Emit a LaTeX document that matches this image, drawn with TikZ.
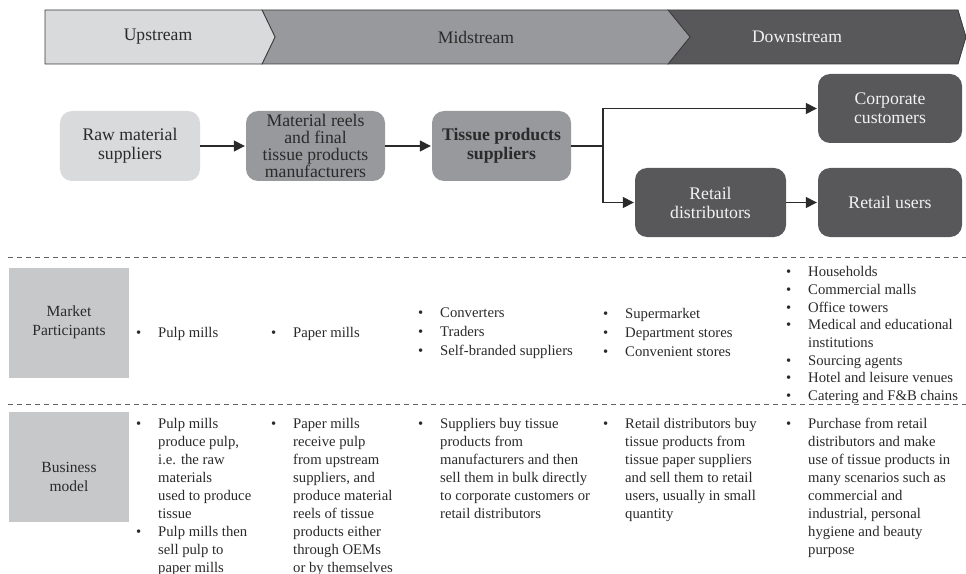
\documentclass[tikz,border=0pt]{standalone}
\usepackage{fontspec}
\setmainfont{Liberation Serif}
\usetikzlibrary{arrows.meta}

\definecolor{ink}{HTML}{2B2A2B}
\definecolor{upfill}{HTML}{D9DADC}
\definecolor{midfill}{HTML}{98999C}
\definecolor{downfill}{HTML}{58585A}
\definecolor{labfill}{HTML}{C7C8CA}
\definecolor{edge}{HTML}{3A3A3A}
\definecolor{paleink}{HTML}{F2F2F2}

\newcommand{\itembul}{\llap{\textbullet\hspace{17bp}}}

\tikzset{
  bannertext/.style={font=\fontsize{17.6bp}{19bp}\selectfont, inner sep=0pt},
  flowbox/.style={rounded corners=12bp, minimum width=140bp, minimum height=70bp,
    inner sep=0pt, align=center, font=\fontsize{17.7bp}{19bp}\selectfont},
  lightbox/.style={flowbox, fill=upfill, text=ink},
  midbox/.style={flowbox, fill=midfill, text=ink},
  darkbox/.style={flowbox, fill=downfill, text=paleink},
  labelbox/.style={fill=labfill, minimum width=120bp, minimum height=110bp, inner sep=0pt},
  labeltext/.style={align=center, text=ink, inner sep=0pt,
    font=\fontsize{15.5bp}{19bp}\selectfont},
  conn/.style={draw=ink, line width=1.4bp, -{Triangle[length=11bp,width=11bp]}, shorten >=1bp},
  plainline/.style={draw=ink, line width=1.4bp},
  sepline/.style={draw=edge!80, line width=0.8bp, dash pattern=on 5bp off 4bp},
  listtext/.style={anchor=base west, inner sep=0pt, text=ink},
  widelist/.style={listtext, font=\fontsize{14.7bp}{19bp}\selectfont},
  tightlist/.style={listtext, font=\fontsize{14.7bp}{17.6bp}\selectfont},
  bodylist/.style={listtext, font=\fontsize{14.7bp}{18bp}\selectfont},
}

\begin{document}
\begin{tikzpicture}[x=1bp, y=-1bp]
\useasboundingbox (0,0) rectangle (966,574);

% value-chain banner
\filldraw[fill=downfill, draw=edge, line width=0.8bp]
  (668,10) -- (958,10) -- (966,37) -- (958,64) -- (668,64) -- (690,37) -- cycle;
\filldraw[fill=midfill, draw=edge, line width=0.8bp]
  (262,10) -- (668,10) -- (690,37) -- (668,64) -- (262,64) -- (275,37) -- cycle;
\filldraw[fill=upfill, draw=edge, line width=0.8bp]
  (45,10) -- (262,10) -- (275,37) -- (262,64) -- (45,64) -- cycle;
\node[bannertext, text=ink] (up) at (158,37) {Upstream};
\node[bannertext, text=ink] (mid) at (476,37) {Midstream};
\node[bannertext, text=paleink] (down) at (797,37) {Downstream};

% flow of products
\node[lightbox] (raw) at (130,146) {Raw material\\suppliers};
\node[midbox, minimum width=139bp, font=\fontsize{17.7bp}{17bp}\selectfont] (mat) at (315.5,146)
  {Material reels\\and final\\tissue products\\manufacturers};
\node[midbox, minimum width=139bp, font=\fontsize{17.7bp}{19bp}\selectfont\bfseries] (tis) at (501.5,146)
  {Tissue products\\suppliers};
\node[darkbox, minimum width=144bp, minimum height=69bp] (corp) at (890,108.5) {Corporate\\customers};
\node[darkbox, minimum width=151bp, minimum height=69bp] (retd) at (710.5,202.5) {Retail\\distributors};
\node[darkbox, minimum width=144bp, minimum height=69bp] (retu) at (890,202.5) {Retail users};

\coordinate (split) at (603,146);
\draw[conn] (raw) -- (mat);
\draw[conn] (mat) -- (tis);
\draw[plainline] (tis) -- (split);
\draw[conn] (split) |- (corp);
\draw[conn] (split) |- (retd);
\draw[conn] (retd) -- (retu);

% row separators
\coordinate (sepAl) at (8,257);
\coordinate (sepAr) at (966,257);
\coordinate (sepBl) at (8,404);
\coordinate (sepBr) at (966,404);
\draw[sepline] (sepAl) -- (sepAr);
\draw[sepline] (sepBl) -- (sepBr);

% market participants row
\node[labelbox] (mpbox) at (69,323) {};
\node[labeltext] (mplab) at (69,322.5) {Market\\Participants};
\node[widelist] (mp1) at (158,337) {\begin{tabular}[t]{@{}l@{}}\itembul Pulp mills\end{tabular}};
\node[widelist] (mp2) at (293,337) {\begin{tabular}[t]{@{}l@{}}\itembul Paper mills\end{tabular}};
\node[widelist] (mp3) at (440,317) {\begin{tabular}[t]{@{}l@{}}
  \itembul Converters\\ \itembul Traders\\ \itembul Self-branded suppliers\end{tabular}};
\node[widelist] (mp4) at (625,318) {\begin{tabular}[t]{@{}l@{}}
  \itembul Supermarket\\ \itembul Department stores\\ \itembul Convenient stores\end{tabular}};
\node[tightlist] (mp5) at (808,277) {\begin{tabular}[t]{@{}l@{}}
  \itembul Households\\ \itembul Commercial malls\\ \itembul Office towers\\
  \itembul Medical and educational\\ institutions\\ \itembul Sourcing agents\\
  \itembul Hotel and leisure venues\\ \itembul Catering and F\&B chains\end{tabular}};

% business model row
\node[labelbox] (bmbox) at (69,467) {};
\node[labeltext] (bmlab) at (69,476.5) {Business\\model};
\node[bodylist] (bm1) at (158,428) {\begin{tabular}[t]{@{}l@{}}
  \itembul Pulp mills\\ produce pulp,\\ i.e. the raw\\ materials\\ used to produce\\ tissue\\
  \itembul Pulp mills then\\ sell pulp to\\ paper mills\end{tabular}};
\node[bodylist] (bm2) at (293,428) {\begin{tabular}[t]{@{}l@{}}
  \itembul Paper mills\\ receive pulp\\ from upstream\\ suppliers, and\\ produce material\\
  reels of tissue\\ products either\\ through OEMs\\ or by themselves\end{tabular}};
\node[bodylist] (bm3) at (440,428) {\begin{tabular}[t]{@{}l@{}}
  \itembul Suppliers buy tissue\\ products from\\ manufacturers and then\\
  sell them in bulk directly\\ to corporate customers or\\ retail distributors\end{tabular}};
\node[bodylist] (bm4) at (625,428) {\begin{tabular}[t]{@{}l@{}}
  \itembul Retail distributors buy\\ tissue products from\\ tissue paper suppliers\\
  and sell them to retail\\ users, usually in small\\ quantity\end{tabular}};
\node[bodylist] (bm5) at (808,428) {\begin{tabular}[t]{@{}l@{}}
  \itembul Purchase from retail\\ distributors and make\\ use of tissue products in\\
  many scenarios such as\\ commercial and\\ industrial, personal\\ hygiene and beauty\\ purpose\end{tabular}};
\end{tikzpicture}
\end{document}
